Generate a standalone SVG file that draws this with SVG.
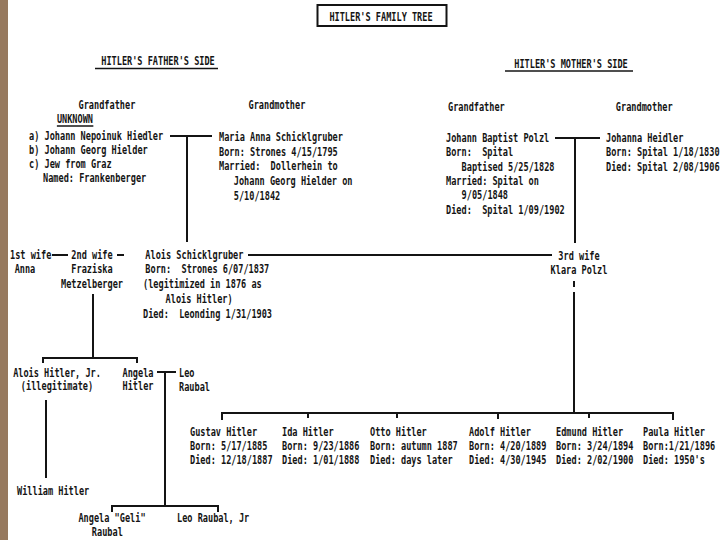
<svg xmlns="http://www.w3.org/2000/svg" width="720" height="540" viewBox="0 0 720 540">
<style>
.t{font-family:"DejaVu Sans Mono","Liberation Mono",monospace;font-weight:bold;font-size:12px;fill:#141414;white-space:pre}
.m{text-anchor:middle}
.ln{stroke:#141414;stroke-width:2;fill:none}
.ul{stroke:#141414;stroke-width:1.6}
</style>
<rect width="720" height="540" fill="#ffffff"/>
<rect x="0" y="0" width="8" height="540" fill="#977a5f"/>

<g id="title">
<rect x="317.5" y="5" width="129" height="21" fill="none" stroke="#141414" stroke-width="2"/>
<g transform="translate(381,0) scale(0.715,1)"><text class="t m" x="0" y="21">HITLER'S FAMILY TREE</text></g>
</g>
<g id="father-side-header">
<g transform="translate(158,0) scale(0.715,1)"><text class="t m" x="0" y="65">HITLER'S FATHER'S SIDE</text></g>
<line class="ul" x1="95" y1="68.5" x2="218" y2="68.5"/>
</g>
<g id="mother-side-header">
<g transform="translate(571,0) scale(0.715,1)"><text class="t m" x="0" y="68">HITLER'S MOTHER'S SIDE</text></g>
<line class="ul" x1="505" y1="71" x2="633" y2="71"/>
</g>

<g id="paternal-grandfather" transform="translate(29,0) scale(0.715,1)">
<text class="t m" x="109" y="109">Grandfather</text>
<text class="t" x="39" y="123">UNKNOWN</text>
<line class="ul" x1="39" y1="126" x2="90" y2="126"/>
<text class="t" x="0" y="140">a) Johann Nepoinuk Hiedler</text>
<text class="t" x="0" y="154">b) Johann Georg Hielder</text>
<text class="t" x="0" y="168">c) Jew from Graz</text>
<text class="t" x="19.6" y="182">Named: Frankenberger</text>
</g>

<g id="paternal-grandmother" transform="translate(219,0) scale(0.715,1)">
<text class="t m" x="81" y="109">Grandmother</text>
<text class="t" x="0" y="141">Maria Anna Schicklgruber</text>
<text class="t" x="0" y="156">Born: Strones 4/15/1795</text>
<text class="t" x="0" y="170">Married:  Dollerhein to</text>
<text class="t" x="20.7" y="185">Johann Georg Hielder on</text>
<text class="t" x="20.7" y="200">5/10/1842</text>
</g>

<g id="maternal-grandfather" transform="translate(446,0) scale(0.715,1)">
<text class="t m" x="42.5" y="111">Grandfather</text>
<text class="t" x="0" y="142">Johann Baptist Polzl</text>
<text class="t" x="0" y="156">Born:  Spital</text>
<text class="t" x="21.8" y="171">Baptised 5/25/1828</text>
<text class="t" x="0" y="185">Married: Spital on</text>
<text class="t" x="21.8" y="199">9/05/1848</text>
<text class="t" x="0" y="214">Died:  Spital 1/09/1902</text>
</g>

<g id="maternal-grandmother" transform="translate(606,0) scale(0.715,1)">
<text class="t m" x="53.5" y="111">Grandmother</text>
<text class="t" x="0" y="142">Johanna Heidler</text>
<text class="t" x="0" y="156">Born: Spital 1/18/1830</text>
<text class="t" x="0" y="171">Died: Spital 2/08/1906</text>
</g>

<g id="first-wife" transform="translate(10,0) scale(0.715,1)">
<text class="t" x="0" y="259">1st wife</text>
<text class="t" x="6.5" y="273">Anna</text>
</g>

<g id="second-wife" transform="translate(92,0) scale(0.715,1)">
<text class="t m" x="0" y="259">2nd wife</text>
<text class="t m" x="0" y="273">Fraziska</text>
<text class="t m" x="0" y="288">Metzelberger</text>
</g>

<g id="alois-schicklgruber" transform="translate(143,0) scale(0.715,1)">
<text class="t" x="3.3" y="259">Alois Schicklgruber</text>
<text class="t" x="3.3" y="273">Born:  Strones 6/07/1837</text>
<text class="t" x="0" y="288">(legitimized in 1876 as</text>
<text class="t" x="31.6" y="303">Alois Hitler)</text>
<text class="t" x="0" y="318">Died:  Leonding 1/31/1903</text>
</g>

<g id="third-wife" transform="translate(579,0) scale(0.715,1)">
<text class="t m" x="0" y="260">3rd wife</text>
<text class="t m" x="0" y="274">Klara Polzl</text>
</g>

<g id="alois-jr" transform="translate(57,0) scale(0.715,1)">
<text class="t m" x="0" y="377">Alois Hitler, Jr.</text>
<text class="t m" x="0" y="390">(illegitimate)</text>
</g>

<g id="william" transform="translate(17,0) scale(0.715,1)">
<text class="t" x="0" y="495">William Hitler</text>
</g>

<g id="angela" transform="translate(138,0) scale(0.715,1)">
<text class="t m" x="0" y="377">Angela</text>
<text class="t m" x="0" y="390">Hitler</text>
</g>

<g id="leo" transform="translate(179,0) scale(0.715,1)">
<text class="t" x="0" y="377">Leo</text>
<text class="t" x="0" y="391">Raubal</text>
</g>

<g id="geli" transform="translate(112,0) scale(0.715,1)">
<text class="t m" x="0" y="522">Angela "Geli"</text>
<text class="t m" x="-6.5" y="536">Raubal</text>
</g>

<g id="leo-jr" transform="translate(177,0) scale(0.715,1)">
<text class="t" x="0" y="522">Leo Raubal, Jr</text>
</g>

<g id="gustav" transform="translate(190,0) scale(0.715,1)">
<text class="t" x="0" y="436">Gustav Hitler</text>
<text class="t" x="0" y="450">Born: 5/17/1885</text>
<text class="t" x="0" y="464">Died: 12/18/1887</text>
</g>
<g id="ida" transform="translate(282,0) scale(0.715,1)">
<text class="t" x="0" y="436">Ida Hitler</text>
<text class="t" x="0" y="450">Born: 9/23/1886</text>
<text class="t" x="0" y="464">Died: 1/01/1888</text>
</g>
<g id="otto" transform="translate(370,0) scale(0.715,1)">
<text class="t" x="0" y="436">Otto Hitler</text>
<text class="t" x="0" y="450">Born: autumn 1887</text>
<text class="t" x="0" y="464">Died: days later</text>
</g>
<g id="adolf" transform="translate(469,0) scale(0.715,1)">
<text class="t" x="0" y="436">Adolf Hitler</text>
<text class="t" x="0" y="450">Born: 4/20/1889</text>
<text class="t" x="0" y="464">Died: 4/30/1945</text>
</g>
<g id="edmund" transform="translate(556,0) scale(0.715,1)">
<text class="t" x="0" y="436">Edmund Hitler</text>
<text class="t" x="0" y="450">Born: 3/24/1894</text>
<text class="t" x="0" y="464">Died: 2/02/1900</text>
</g>
<g id="paula" transform="translate(643,0) scale(0.715,1)">
<text class="t" x="0" y="436">Paula Hitler</text>
<text class="t" x="0" y="450">Born:1/21/1896</text>
<text class="t" x="0" y="464">Died: 1950's</text>
</g>

<g id="connectors">
<path class="ln" d="M170 136H212M187 136V242"/>
<path class="ln" d="M555 138H600M575 138V243"/>
<path class="ln" d="M52 255H68M117 255H124"/>
<path class="ln" d="M248 255H552"/>
<path class="ln" d="M93 294V358M43 363V358H137V363"/>
<path class="ln" d="M46 400V478"/>
<path class="ln" d="M157 372H176M165 372V506M112 512V506H218V512"/>
<path class="ln" d="M574 281V287M574 292V413"/>
<path class="ln" d="M222 420V413H673V420M308 413V418M397 413V418M498 413V419M589 413V418"/>
</g>
</svg>
